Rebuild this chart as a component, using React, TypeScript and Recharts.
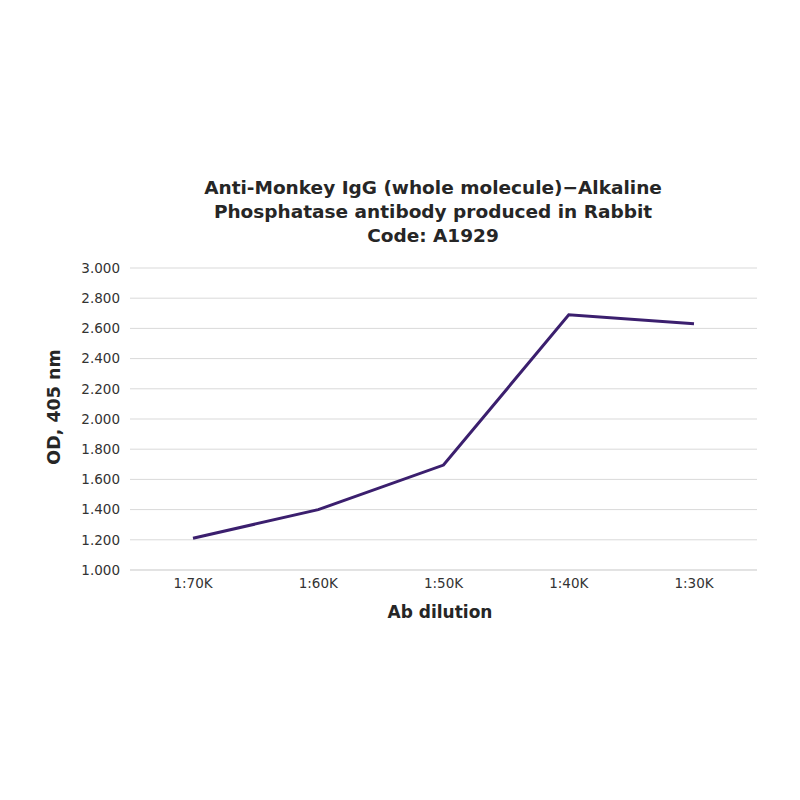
import { LineChart, Line, XAxis, YAxis, CartesianGrid } from "recharts";

const dilutions = ["1:70K", "1:60K", "1:50K", "1:40K", "1:30K"];
const odValues = [1.21, 1.4, 1.695, 2.69, 2.63];
const yTicks = [1.0, 1.2, 1.4, 1.6, 1.8, 2.0, 2.2, 2.4, 2.6, 2.8, 3.0];
const titleLines = [
  "Anti-Monkey IgG (whole molecule)\u2212Alkaline",
  "Phosphatase antibody produced in Rabbit",
  "Code: A1929",
];

const data = dilutions.map((d, i) => ({ dilution: d, od: odValues[i] }));

const font = "'DejaVu Sans', Verdana, sans-serif";

export default function App() {
  return (
    <div style={{ position: "absolute", left: 0, top: 0, width: 800, height: 800, background: "#fff" }}>
      <div
        style={{
          position: "absolute",
          left: 0,
          top: 176,
          width: 866,
          textAlign: "center",
          fontFamily: font,
          fontWeight: "bold",
          fontSize: 18.5,
          lineHeight: "24px",
          color: "#262626",
        }}
      >
        {titleLines.map((t) => (
          <div key={t}>{t}</div>
        ))}
      </div>
      <LineChart
        width={800}
        height={800}
        data={data}
        margin={{ top: 268, right: 43, bottom: 200, left: 0 }}
      >
        <CartesianGrid vertical={false} stroke="#d9d9d9" />
        <XAxis
          dataKey="dilution"
          height={30}
          padding={{ left: 63, right: 63 }}
          tickLine={false}
          axisLine={{ stroke: "#d9d9d9" }}
          tick={{ fontSize: 13.5, fill: "#333", fontFamily: font }}
          tickMargin={2}
          label={{
            content: () => (
              <text
                x={440}
                y={618}
                textAnchor="middle"
                fontFamily={font}
                fontWeight="bold"
                fontSize={17}
                fill="#262626"
              >
                Ab dilution
              </text>
            ),
          }}
        />
        <YAxis
          width={130}
          domain={[1, 3]}
          ticks={yTicks}
          interval={0}
          tickFormatter={(v: number) => v.toFixed(3)}
          tickLine={false}
          axisLine={false}
          tick={{ fontSize: 13.5, fill: "#333", fontFamily: font }}
          tickMargin={4}
          label={{
            content: () => (
              <text
                x={54}
                y={407}
                transform="rotate(-90 54 407)"
                textAnchor="middle"
                dominantBaseline="central"
                fontFamily={font}
                fontWeight="bold"
                fontSize={17.5}
                fill="#262626"
              >
                OD, 405 nm
              </text>
            ),
          }}
        />
        <Line
          type="linear"
          dataKey="od"
          stroke="#3b1f6e"
          strokeWidth={3}
          dot={false}
          activeDot={false}
          isAnimationActive={false}
        />
      </LineChart>
    </div>
  );
}
